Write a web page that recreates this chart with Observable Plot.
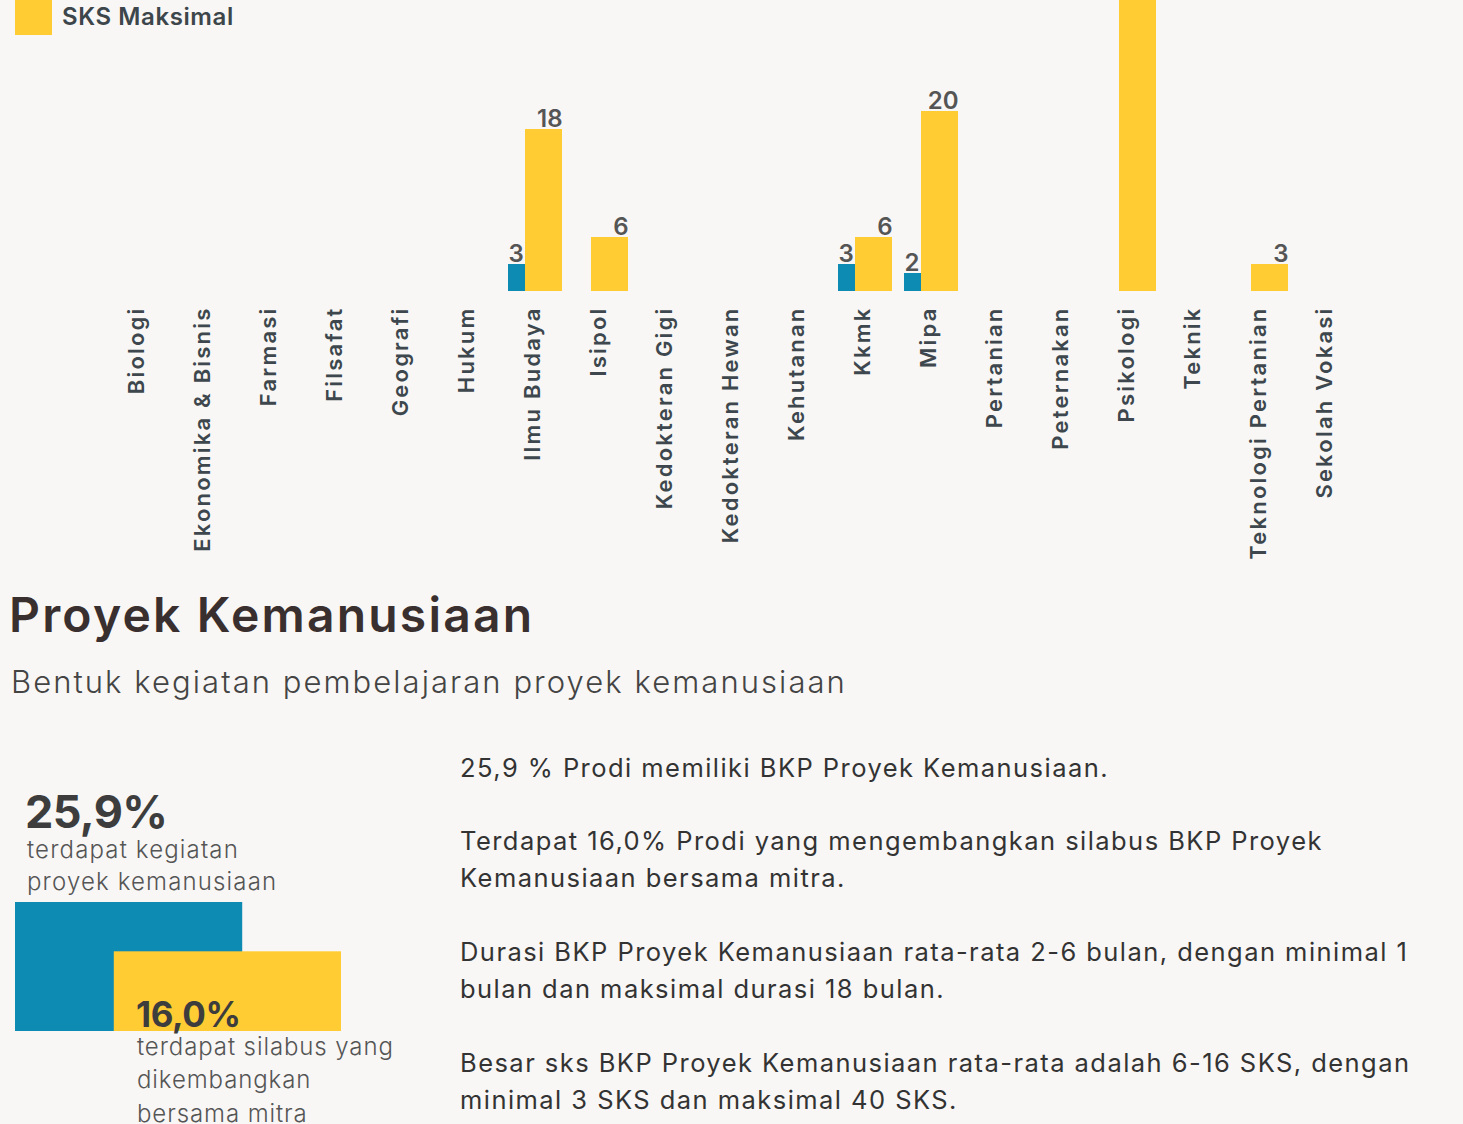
<!DOCTYPE html>
<html>
<head>
<meta charset="utf-8">
<script src="https://cdn.jsdelivr.net/npm/d3@7"></script>
<script src="https://cdn.jsdelivr.net/npm/@observablehq/plot@0.6"></script>
<style>
  html, body { margin: 0; padding: 0; background: #f8f7f5; overflow: hidden; }
  body { width: 1463px; height: 1124px; position: relative; font-family: Inter, "Noto Sans", sans-serif; }
  .abs { position: absolute; white-space: nowrap; }
  .legend-row { display: flex; align-items: center; height: 37px; margin-bottom: 10px; }
  .swatch { width: 37px; height: 37px; margin-right: 10px; }
  .legend-text { font-size: 24px; font-weight: 600; color: #3d464b; letter-spacing: 0.6px; }
  #title { left: 9px; font-size: 48px; line-height: 48px; font-weight: 600; color: #3a2f2f; letter-spacing: 2.2px; }
  #subtitle { left: 11px; font-size: 31px; line-height: 31px; font-weight: 300; color: #444; letter-spacing: 2.05px; }
  .big { font-weight: 700; color: #3d3d3d; }
  .desc { font-size: 24px; font-weight: 300; color: #555; letter-spacing: 1.15px; }
  .para { left: 460px; font-size: 25.5px; line-height: 36.5px; font-weight: 400; color: #333; letter-spacing: 1.45px; }
</style>
</head>
<body>
<div id="chart" class="abs" style="left:0;top:-89px"></div>
<div id="legend" class="abs" style="left:15px;top:-49px"></div>
<div id="title" class="abs" style="top:591px">Proyek Kemanusiaan</div>
<div id="subtitle" class="abs" style="top:666px">Bentuk kegiatan pembelajaran proyek kemanusiaan</div>
<div id="rects" class="abs" style="left:0;top:902px"></div>
<div id="big1" class="abs big" style="left:25px;top:791.6px;font-size:45px;line-height:40px;letter-spacing:-0.6px"></div>
<div id="desc1" class="abs desc" style="left:27px;top:834px;line-height:32.4px"></div>
<div id="big2" class="abs big" style="left:136px;top:999px;font-size:35px;line-height:31px;letter-spacing:-0.4px"></div>
<div id="desc2" class="abs desc" style="left:137px;top:1030px;line-height:33.3px;letter-spacing:0.9px"></div>
<div id="p1" class="abs para" style="top:750px"></div>
<div id="p2" class="abs para" style="top:823px"></div>
<div id="p3" class="abs para" style="top:934px"></div>
<div id="p4" class="abs para" style="top:1045px"></div>
<script>
// ---- Data ----
const categories = ["Biologi", "Ekonomika & Bisnis", "Farmasi", "Filsafat", "Geografi", "Hukum",
  "Ilmu Budaya", "Isipol", "Kedokteran Gigi", "Kedokteran Hewan", "Kehutanan", "Kkmk", "Mipa",
  "Pertanian", "Peternakan", "Psikologi", "Teknik", "Teknologi Pertanian", "Sekolah Vokasi"];
const sksMinimal  = [null, null, null, null, null, null, 3, null, null, null, null, 3, 2, null, null, null, null, null, null];
const sksMaksimal = [null, null, null, null, null, null, 18, 6, null, null, null, 6, 20, null, null, 40, null, 3, null];
const seriesNames = ["SKS Minimal", "SKS Maksimal"];

const summaryValues = [25.9, 16.0];
const summaryLabels = [["terdapat kegiatan", "proyek kemanusiaan"], ["terdapat silabus yang", "dikembangkan", "bersama mitra"]];

const paragraphs = [
  ["25,9 % Prodi memiliki BKP Proyek Kemanusiaan."],
  ["Terdapat 16,0% Prodi yang mengembangkan silabus BKP Proyek", "Kemanusiaan bersama mitra."],
  ["Durasi BKP Proyek Kemanusiaan rata-rata 2-6 bulan, dengan minimal 1", "bulan dan maksimal durasi 18 bulan."],
  ["Besar sks BKP Proyek Kemanusiaan rata-rata adalah 6-16 SKS, dengan", "minimal 3 SKS dan maksimal 40 SKS."]
];

const BLUE = "#0e8bb3";
const YELLOW = "#ffcc33";

// ---- Legend ----
const legend = document.getElementById("legend");
[[seriesNames[0], BLUE], [seriesNames[1], YELLOW]].forEach(([name, color]) => {
  const row = document.createElement("div");
  row.className = "legend-row";
  row.innerHTML = `<div class="swatch" style="background:${color}"></div><div class="legend-text">${name}</div>`;
  legend.appendChild(row);
});

// ---- Main chart ----
const minData = categories.map((c, i) => ({cat: c, value: sksMinimal[i]})).filter(d => d.value != null);
const maxData = categories.map((c, i) => ({cat: c, value: sksMaksimal[i]})).filter(d => d.value != null);

const chart = Plot.plot({
  width: 1463, height: 660,
  marginLeft: 97, marginRight: 95, marginTop: 20, marginBottom: 280,
  style: {background: "transparent", fontFamily: "Inter, sans-serif", overflow: "visible"},
  x: {domain: categories, padding: 0.185, axis: null},
  y: {domain: [0, 40], axis: null},
  marks: [
    Plot.barY(minData, {x: "cat", y: "value", fill: BLUE, insetRight: 17}),
    Plot.barY(maxData, {x: "cat", y: "value", fill: YELLOW, insetLeft: 17}),
    Plot.text(minData, {x: "cat", y: "value", text: d => String(d.value), textAnchor: "start", dx: -27, dy: -3,
      lineAnchor: "bottom", fontSize: 24, fontWeight: 600, fill: "#555"}),
    Plot.text(maxData, {x: "cat", y: "value", text: d => String(d.value), textAnchor: "end", dx: 27, dy: -3,
      lineAnchor: "bottom", fontSize: 24, fontWeight: 600, fill: "#555"}),
    Plot.axisX({tickRotate: -90, tickSize: 0, tickPadding: 16, dx: -3, dy: -1, fontSize: 22, fontWeight: 600, fill: "#3d474d", label: null})
  ]
});
d3.select(chart).selectAll("g[aria-label='x-axis tick label'] text").style("letter-spacing", "2.2px");
document.getElementById("chart").appendChild(chart);

// ---- Summary rectangles ----
const rectData = summaryValues.map((v, i) => ({i, value: v}));
const rects = Plot.plot({
  width: 360, height: 129,
  marginLeft: 15, marginRight: 19, marginTop: 0, marginBottom: 0,
  style: {background: "transparent"},
  x: {domain: [0, 3.3], axis: null},
  y: {domain: [0, summaryValues[0]], axis: null},
  marks: [
    Plot.rectY(rectData, {x1: d => d.i, x2: d => d.i + 2.3, y1: 0, y2: "value", fill: (d) => d.i === 0 ? BLUE : YELLOW})
  ]
});
document.getElementById("rects").appendChild(rects);

const fmt = v => v.toFixed(1).replace(".", ",") + "%";
document.getElementById("big1").textContent = fmt(summaryValues[0]);
document.getElementById("big2").textContent = fmt(summaryValues[1]);
document.getElementById("desc1").innerHTML = summaryLabels[0].join("<br>");
document.getElementById("desc2").innerHTML = summaryLabels[1].join("<br>");
paragraphs.forEach((p, i) => { document.getElementById("p" + (i + 1)).innerHTML = p.join("<br>"); });
</script>
</body>
</html>
